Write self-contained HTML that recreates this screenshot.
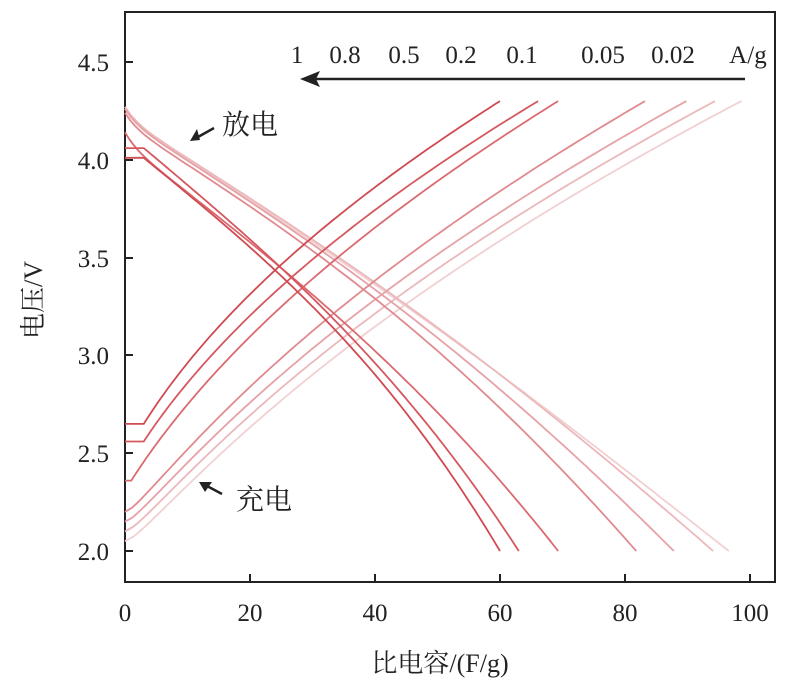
<!DOCTYPE html>
<html><head><meta charset="utf-8"><style>
body{margin:0;background:#fff}
svg text{font-family:"Liberation Serif","Noto Serif CJK SC",serif;fill:#222}
</style></head><body>
<svg id="s" width="790" height="687" xmlns="http://www.w3.org/2000/svg">
<rect x="125" y="12" width="650" height="570" fill="none" stroke="#222" stroke-width="2"/>
<g id="curves" fill="none" stroke-width="1.8"></g>
<g stroke="#222" stroke-width="2">
<line x1="125" y1="62" x2="133" y2="62"/><line x1="125" y1="160" x2="133" y2="160"/>
<line x1="125" y1="258" x2="133" y2="258"/><line x1="125" y1="355" x2="133" y2="355"/>
<line x1="125" y1="453" x2="133" y2="453"/><line x1="125" y1="551" x2="133" y2="551"/>
<line x1="250" y1="582" x2="250" y2="574"/><line x1="375" y1="582" x2="375" y2="574"/>
<line x1="500" y1="582" x2="500" y2="574"/><line x1="625" y1="582" x2="625" y2="574"/>
<line x1="750" y1="582" x2="750" y2="574"/>
</g>
<g font-size="25" text-anchor="end">
<text x="109" y="71">4.5</text><text x="109" y="169">4.0</text><text x="109" y="267">3.5</text>
<text x="109" y="364">3.0</text><text x="109" y="462">2.5</text><text x="109" y="560">2.0</text>
</g>
<g font-size="25" text-anchor="middle">
<text x="125" y="621">0</text><text x="250" y="621">20</text><text x="375" y="621">40</text>
<text x="500" y="621">60</text><text x="625" y="621">80</text><text x="750" y="621">100</text>
</g>
<text x="440" y="672" font-size="26" text-anchor="middle">比电容/(F/g)</text>
<text transform="translate(42,300) rotate(-90)" font-size="26" text-anchor="middle">电压/V</text>
<g font-size="25" text-anchor="middle">
<text x="297" y="63">1</text><text x="345" y="63">0.8</text><text x="404" y="63">0.5</text>
<text x="461" y="63">0.2</text><text x="522" y="63">0.1</text><text x="603" y="63">0.05</text>
<text x="673" y="63">0.02</text><text x="748" y="63">A/g</text>
</g>
<line x1="745" y1="79" x2="312" y2="79" stroke="#222" stroke-width="2.5"/>
<polygon points="300,79 320,71 316,79 320,87" fill="#222"/>
<text x="222" y="134" font-size="28">放电</text>
<line x1="214" y1="128" x2="198" y2="137" stroke="#222" stroke-width="2.5"/>
<polygon points="190,141 197,129 200,140" fill="#222"/>
<text x="236" y="509" font-size="28">充电</text>
<line x1="222" y1="494" x2="207" y2="486" stroke="#222" stroke-width="2.5"/>
<polygon points="199,482 212,482 205,492" fill="#222"/>
</svg>
<script>
var g=document.getElementById('curves');
function X(c){return 125+6.25*c}function Y(v){return 551-(v-2)*195.6}
var cols=['#d04a52','#d5585f','#da6a70','#e08a8f','#e6a2a6','#ebb8bb','#f1d0d2'];
var chS=[2.65,2.56,2.36,2.2,2.15,2.1,2.05],chE=[60,66.1,69.3,83.2,89.8,94.4,98.6];
var dS=[4.01,4.06,4.14,4.24,4.26,4.27,4.27],dE=[60,63,69.3,81.8,87.8,94.1,96.6];
for(var k=6;k>=0;k--){
 var p=[],c0=k<2?3:(k==2?1:0);
 p.push([X(0),Y(chS[k])]);
 for(var i=0;i<=100;i++){var u=i/100;var gg=0.57*u+0.43*u*u;
  if(k>=3){gg=gg*0.92+0.08*Math.sqrt(u);}
  var v=chS[k]+(4.3-chS[k])*u;p.push([X(c0+(chE[k]-c0)*gg),Y(v)]);}
 add(p,cols[k]);
 p=[];var d0=k<2?3:0;var a=0.74+0.043*k;
 p.push([X(0),Y(dS[k])]);
 if(k<2)p.push([X(3),Y(dS[k])]);
 for(var i=1;i<=100;i++){var s=i/100;var c=d0+(dE[k]-d0)*s;
  var h=a*s+(1-a)*s*s*s-(k>=3?0.03*Math.sin(Math.PI*s):0);
  var v=dS[k]-(dS[k]-2)*h; if(k>=2)v-=0.06*(1-Math.exp(-c/2))*(1-s);
  p.push([X(c),Y(v)]);}
 add(p,cols[k]);
}
function add(p,col){var e=document.createElementNS('http://www.w3.org/2000/svg','polyline');
 e.setAttribute('points',p.map(function(a){return a[0].toFixed(1)+','+a[1].toFixed(1)}).join(' '));
 e.setAttribute('stroke',col);g.appendChild(e);}
</script>
</body></html>
